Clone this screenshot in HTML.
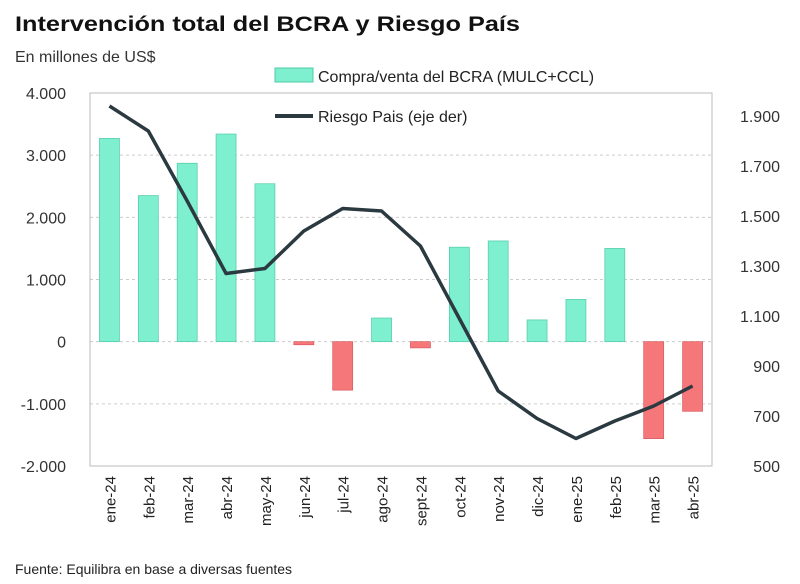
<!DOCTYPE html>
<html><head><meta charset="utf-8"><style>
body{margin:0;background:#fff;width:800px;height:579px;overflow:hidden;font-family:"Liberation Sans",sans-serif}
</style></head><body>
<svg id="c" width="800" height="579" xmlns="http://www.w3.org/2000/svg">
<text x="15" y="31" font-size="21" font-weight="bold" fill="#111" textLength="505" lengthAdjust="spacingAndGlyphs">Intervención total del BCRA y Riesgo País</text>
<text x="15" y="62" font-size="16" fill="#333">En millones de US$</text>
<g id="g"></g>
<text x="15" y="574" font-size="14" fill="#222">Fuente: Equilibra en base a diversas fuentes</text>
</svg>
<script>
const categories=["ene-24","feb-24","mar-24","abr-24","may-24","jun-24","jul-24","ago-24","sept-24","oct-24","nov-24","dic-24","ene-25","feb-25","mar-25","abr-25"];
const bcra=[3270,2350,2870,3340,2540,-50,-780,380,-100,1520,1620,350,680,1500,-1560,-1120];
const riesgo=[1940,1840,1560,1270,1290,1440,1530,1520,1380,1090,800,690,610,680,740,820];
const leftTicks=[4000,3000,2000,1000,0,-1000,-2000];
const leftLabels=["4.000","3.000","2.000","1.000","0","-1.000","-2.000"];
const rightTicks=[1900,1700,1500,1300,1100,900,700,500];
const rightLabels=["1.900","1.700","1.500","1.300","1.100","900","700","500"];
const NS="http://www.w3.org/2000/svg";
const g=document.getElementById('g');
const L=90,R=712,T=93,B=466;
const yL=v=>T+(4000-v)/6000*(B-T);
const yR=v=>B-(v-500)/1400*350;
const step=(R-L)/categories.length;
const xC=i=>L+step*(i+0.5);
function mk(t,a){const e=document.createElementNS(NS,t);for(const k in a)e.setAttribute(k,a[k]);g.appendChild(e);return e;}
leftTicks.forEach((v,i)=>{
 const ln=mk('line',{x1:L,x2:R,y1:yL(v),y2:yL(v),stroke:'#ccc','stroke-dasharray':'3,3'});
 
 
 const t=mk('text',{x:66,y:yL(v)+6,'text-anchor':'end','font-size':16,fill:'#333'});t.textContent=leftLabels[i];
 
 
});
rightTicks.forEach((v,i)=>{
 const t=mk('text',{x:780,y:yR(v)+6,'text-anchor':'end','font-size':16,fill:'#333'});t.textContent=rightLabels[i];
 
 
});
const bx=mk('rect',{x:L,y:T,width:R-L,height:B-T,fill:'none',stroke:'#bbb'});


const bw=20;
bcra.forEach((v,i)=>{
 const y0=yL(0),y1=yL(v);
 const r=mk('rect',{x:xC(i)-bw/2,y:Math.min(y0,y1),width:bw,height:Math.abs(y1-y0),fill:v>=0?'#7ff0cf':'#f6777a',stroke:v>=0?'#4fc9a6':'#d85a5e','stroke-width':0.7});
 
 
});
const p=mk('polyline',{points:riesgo.map((v,i)=>xC(i)+','+yR(v)).join(' '),fill:'none',stroke:'#2b3a40','stroke-width':3.5,'stroke-linejoin':'round'});


categories.forEach((c,i)=>{
 const t=mk('text',{transform:`translate(${xC(i)+6},${B+10}) rotate(-90)`,'text-anchor':'end','font-size':15,fill:'#222'});t.textContent=c;
 
 
});
const lr=mk('rect',{x:275,y:68,width:38,height:14,fill:'#7ff0cf',stroke:'#4fc9a6'});


const lt=mk('text',{x:318,y:82,'font-size':16,fill:'#222'});lt.textContent='Compra/venta del BCRA (MULC+CCL)';


const ll=mk('line',{x1:275,x2:313,y1:116,y2:116,stroke:'#2b3a40','stroke-width':4});


const lt2=mk('text',{x:318,y:122,'font-size':16,fill:'#222'});lt2.textContent='Riesgo Pais (eje der)';


</script>
</body></html>
